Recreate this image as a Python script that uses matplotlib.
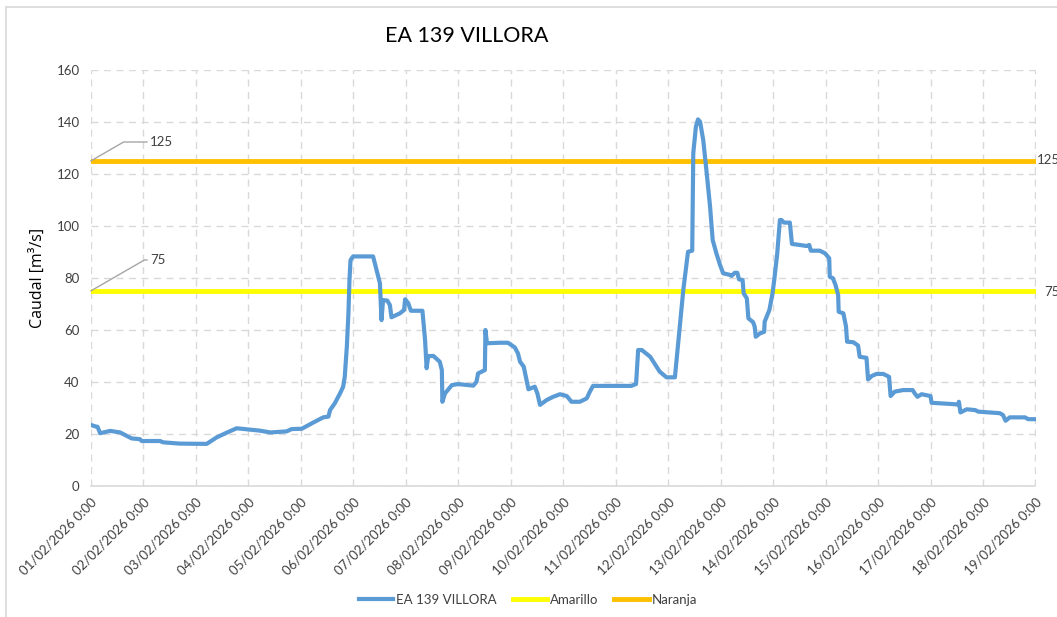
import matplotlib
matplotlib.use('Agg')
from matplotlib import pyplot as plt
from matplotlib.patches import Rectangle

plt.rcParams['font.family'] = ['Lato', 'DejaVu Sans']

# series: days after 01/02/2026 0:00, caudal in m3/s
days = [0.0, 0.11, 0.13, 0.18, 0.37, 0.56, 0.78, 0.94, 0.97, 1.32, 1.38, 1.70, 2.21, 2.40,
        2.59, 2.78, 2.97, 3.22, 3.42, 3.73, 3.83, 4.02, 4.24, 4.43, 4.53, 4.56, 4.65, 4.75,
        4.81, 4.84, 4.88, 4.91, 4.93, 4.95, 5.0, 5.38, 5.51, 5.54, 5.57, 5.65, 5.70, 5.73,
        5.89, 5.97, 5.99, 6.05, 6.10, 6.32, 6.37, 6.40, 6.43, 6.53, 6.65, 6.69, 6.70, 6.75,
        6.88, 7.0, 7.29, 7.35, 7.38, 7.51, 7.52, 7.55, 7.80, 7.95, 8.08, 8.14, 8.18, 8.25,
        8.29, 8.34, 8.46, 8.51, 8.56, 8.69, 8.81, 8.94, 9.07, 9.16, 9.32, 9.45, 9.51, 9.57,
        10.30, 10.39, 10.43, 10.50, 10.66, 10.84, 10.97, 11.13, 11.29, 11.38, 11.46, 11.48,
        11.53, 11.57, 11.61, 11.67, 11.73, 11.80, 11.85, 11.92, 11.99, 12.05, 12.18, 12.21,
        12.27, 12.32, 12.35, 12.42, 12.44, 12.50, 12.53, 12.62, 12.65, 12.67, 12.75, 12.83,
        12.84, 12.93, 12.99, 13.03, 13.08, 13.13, 13.16, 13.21, 13.32, 13.36, 13.51, 13.64,
        13.69, 13.72, 13.89, 13.99, 14.07, 14.08, 14.14, 14.19, 14.24, 14.25, 14.34, 14.39,
        14.41, 14.53, 14.62, 14.65, 14.78, 14.81, 14.88, 14.97, 15.10, 15.21, 15.24, 15.32,
        15.48, 15.66, 15.70, 15.75, 15.83, 16.0, 16.02, 16.43, 16.53, 16.54, 16.57, 16.69,
        16.85, 16.91, 17.32, 17.38, 17.43, 17.51, 17.80, 17.86, 18.0]
caudal = [23.5, 22.8, 22.8, 20.3, 21.2, 20.6, 18.3, 18.0, 17.3, 17.3, 16.8, 16.3, 16.2, 18.7,
          20.5, 22.2, 21.8, 21.3, 20.6, 21.0, 21.9, 22.0, 24.4, 26.4, 26.7, 29.2, 31.8, 35.6,
          38.2, 42.0, 53.6, 66.4, 79.2, 86.9, 88.3, 88.3, 78.0, 63.8, 71.5, 71.3, 69.6, 64.9,
          66.4, 67.7, 71.8, 70.3, 67.4, 67.4, 56.2, 45.3, 50.0, 50.0, 47.8, 44.6, 32.4, 35.6,
          38.8, 39.2, 38.6, 40.1, 43.3, 44.6, 60.0, 54.9, 55.1, 55.1, 53.3, 51.0, 47.8, 45.9,
          42.0, 37.2, 38.2, 35.6, 31.2, 33.1, 34.3, 35.3, 34.6, 32.4, 32.4, 33.7, 36.3, 38.5,
          38.5, 39.2, 52.3, 52.3, 49.7, 44.0, 41.8, 41.8, 75.4, 90.1, 90.5, 128.0,
          138.2, 141.0, 140.1, 133.0, 121.5, 107.4, 94.6, 89.5, 85.0, 81.8, 81.2, 80.8,
          82.0, 82.0, 79.5, 79.2, 74.1, 72.2, 64.5, 63.0, 61.3, 57.4, 58.7, 59.3,
          63.2, 67.7, 74.1, 80.5, 89.5, 102.3, 102.3, 101.3, 101.3, 93.1, 92.7, 92.3,
          92.7, 90.5, 90.5, 89.5, 87.6, 80.5, 79.9, 77.3, 73.5, 67.0, 66.4, 61.3,
          55.5, 55.3, 54.0, 49.7, 49.3, 41.0, 42.3, 43.1, 43.1, 42.0, 34.6, 36.3,
          36.9, 36.9, 35.6, 34.3, 35.3, 34.6, 32.0, 31.5, 31.3, 32.4, 28.3, 29.5,
          29.2, 28.6, 28.0, 27.3, 25.1, 26.4, 26.4, 25.7, 25.7]

amarillo = 75
naranja = 125
tick_labels = ['%02d/02/2026 0:00' % d for d in range(1, 20)]

fig = plt.figure(figsize=(10.57, 6.17), dpi=100)
ax = fig.add_axes([90.7 / 1057, 1 - 486 / 617, (1035.5 - 90.7) / 1057, (486 - 70) / 617])

# chart border (Excel style)
fig.patches.append(Rectangle((5.5 / 1057, -0.1), 1.2, (1 - 7 / 617) + 0.1, transform=fig.transFigure,
                             fill=False, edgecolor='#D9D9D9', linewidth=1.2))

ax.plot(days, caudal, color='#5B9BD5', linewidth=3, label='EA 139 VILLORA', zorder=3,
        solid_joinstyle='round')
ax.axhline(amarillo, color='#FFFF00', linewidth=3.5, label='Amarillo', zorder=2)
ax.axhline(naranja, color='#FFC000', linewidth=3.5, label='Naranja', zorder=2)

ax.set_xlim(0, 18)
ax.set_ylim(0, 160)
ax.set_yticks(range(0, 161, 20))
ax.set_xticks(range(0, 19))
ax.set_xticklabels(tick_labels, rotation=45, ha='right', va='top', rotation_mode='anchor')
ax.tick_params(length=0, labelsize=9.5, labelcolor='#404040')
ax.tick_params(axis='x', pad=7)
ax.tick_params(axis='y', pad=8)
ax.grid(True, color='#D9D9D9', linestyle=(0, (5, 4)), linewidth=1)
for s in ['top', 'right', 'left']:
    ax.spines[s].set_visible(False)
ax.spines['bottom'].set_color('#D9D9D9')
ax.spines['bottom'].set_linewidth(1.2)

# data labels with leader lines
ax.annotate('125', xy=(0, naranja), xytext=(150 / 1057, 1 - 142 / 617), textcoords='figure fraction',
            va='center', ha='left', fontsize=9.5, color='#404040',
            arrowprops=dict(arrowstyle='-', color='#A6A6A6', lw=1, shrinkA=0, shrinkB=0,
                            connectionstyle='angle,angleA=0,angleB=30,rad=0'))
ax.annotate('75', xy=(0, amarillo), xytext=(150 / 1057, 1 - 260 / 617), textcoords='figure fraction',
            va='center', ha='left', fontsize=9.5, color='#404040',
            arrowprops=dict(arrowstyle='-', color='#A6A6A6', lw=1, shrinkA=0, shrinkB=0,
                            connectionstyle='angle,angleA=0,angleB=30,rad=0'))
fig.text(1037 / 1057, 1 - 160 / 617, '125', va='center', ha='left', fontsize=9.5, color='#404040')
fig.text(1044 / 1057, 1 - 292 / 617, '75', va='center', ha='left', fontsize=9.5, color='#404040')

fig.text(466.7 / 1057, 1 - 36 / 617, 'EA 139 VILLORA', ha='center', va='center', fontsize=15.5, color='#000000')
fig.text(38 / 1057, 1 - 278 / 617, 'Caudal [m³/s]', ha='center', va='center', rotation=90,
         fontsize=11.5, color='#000000', family=['Open Sans', 'DejaVu Sans'])

fig.legend(loc='center', bbox_to_anchor=(528 / 1057, 1 - 600 / 617), ncol=3, frameon=False,
           fontsize=9.5, handlelength=2.6, columnspacing=1.2, handletextpad=0.25,
           labelcolor='#404040')

plt.savefig('out.png', dpi=100)
